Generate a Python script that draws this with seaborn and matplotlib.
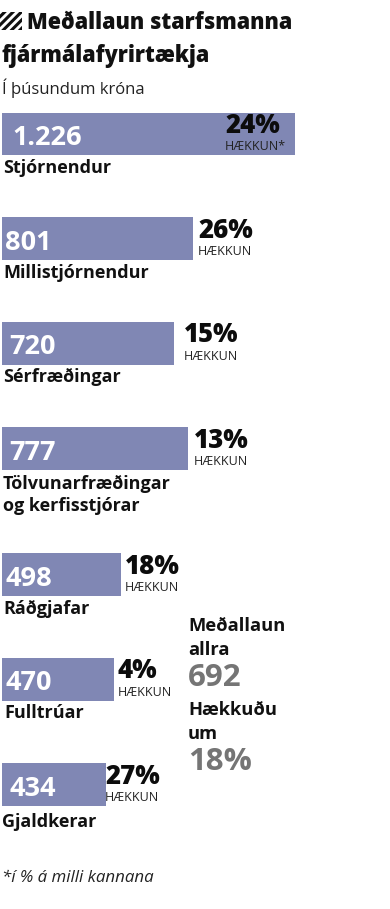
import pandas as pd
import seaborn as sns
import matplotlib.pyplot as plt
from matplotlib.patches import Rectangle

W, H = 390, 909

# Chart data
categories = ['Stjórnendur', 'Millistjórnendur', 'Sérfræðingar',
              'Tölvunarfræðingar\nog kerfisstjórar', 'Ráðgjafar',
              'Fulltrúar', 'Gjaldkerar']
salaries = [1226, 801, 720, 777, 498, 470, 434]
salary_labels = ['1.226', '801', '720', '777', '498', '470', '434']
raises = ['24%', '26%', '15%', '13%', '18%', '4%', '27%']
raise_words = ['HÆKKUN*', 'HÆKKUN', 'HÆKKUN', 'HÆKKUN', 'HÆKKUN', 'HÆKKUN', 'HÆKKUN']

# Layout of the rows, in pixels
bar_centers = [134, 238.5, 343.5, 448.5, 574.5, 679.5, 784.5]
value_x = [12, 5, 9, 9, 5, 5, 10]
raise_x = [225, 198, 184, 194, 125, 118, 105]
label_x = [3, 3, 3, 3, 3, 4, 2]
label_y = [168, 273, 377, 495, 609, 713, 822]

BAR = '#8087b4'
GREY = '#757575'
HEAVY = 'Open Sans'


def fx(x):
    return x / W


def fy(y):
    return 1 - y / H


def main():
    sns.set_theme(style='white')
    plt.rcParams['hatch.linewidth'] = 2.2
    fig = plt.figure(figsize=(W / 100, H / 100), dpi=100)
    ax = fig.add_axes([0, 0, 1, 1])

    df = pd.DataFrame({'salary': salaries, 'center': bar_centers})
    sns.barplot(data=df, x='salary', y='center', orient='y', native_scale=True,
                width=43 / 105, color=BAR, saturation=1, linewidth=0, ax=ax)
    # axis in kronur, but scaled so that it fits the 390 px wide picture
    px_per_unit = 293 / 1226
    ax.set_xlim(-2 / px_per_unit, (W - 2) / px_per_unit)
    ax.set_ylim(H, 0)
    ax.axis('off')

    # title
    icon = Rectangle((0, fy(30)), 22 / W, 18 / H, transform=fig.transFigure,
                     facecolor='none', edgecolor='#111111', hatch='////', linewidth=0)
    fig.add_artist(icon)
    fig.text(fx(27), fy(23), 'Meðallaun starfsmanna', family=HEAVY, weight='heavy',
             fontsize=15.5, va='center', color='#111111')
    fig.text(fx(1), fy(56), 'fjármálafyrirtækja', family=HEAVY, weight='heavy',
             fontsize=15.5, va='center', color='#111111')
    fig.text(fx(2), fy(88), 'Í þúsundum króna', family='Open Sans', fontsize=12,
             va='center', color='#222222')

    # rows
    for i, cat in enumerate(categories):
        fig.text(fx(value_x[i]), fy(bar_centers[i] + 4), salary_labels[i], family=HEAVY,
                 weight='bold', fontsize=19.5, va='center', color='white')
        fig.text(fx(raise_x[i]), fy(bar_centers[i] - 8), raises[i], family=HEAVY,
                 weight='heavy', fontsize=18.5, va='center', color='#0c0c0c')
        fig.text(fx(raise_x[i]), fy(bar_centers[i] + 13), raise_words[i],
                 family='Open Sans', fontsize=9, va='center', color='#222222')
        fig.text(fx(label_x[i]), fy(label_y[i]), cat, family=HEAVY, weight='bold',
                 fontsize=13, va='center', color='#111111', linespacing=1.25)

    # side box
    fig.text(fx(188), fy(626), 'Meðallaun', family=HEAVY, weight='bold', fontsize=13.2,
             va='center', color='#111111')
    fig.text(fx(188), fy(650), 'allra', family=HEAVY, weight='bold', fontsize=13.2,
             va='center', color='#111111')
    fig.text(fx(188), fy(678), '692', family=HEAVY, weight='bold', fontsize=22.5,
             va='center', color=GREY)
    fig.text(fx(188), fy(710), 'Hækkuðu', family=HEAVY, weight='bold', fontsize=13.2,
             va='center', color='#111111')
    fig.text(fx(188), fy(734), 'um', family=HEAVY, weight='bold', fontsize=13.2,
             va='center', color='#111111')
    fig.text(fx(188), fy(762), '18%', family=HEAVY, weight='bold', fontsize=22.5,
             va='center', color=GREY)

    fig.text(fx(2), fy(878), '*í % á milli kannana', family='Open Sans', style='italic',
             fontsize=12.2, va='center', color='#222222')

    fig.savefig('out.png', dpi=100)
    plt.close(fig)


if __name__ == "__main__":
    main()
